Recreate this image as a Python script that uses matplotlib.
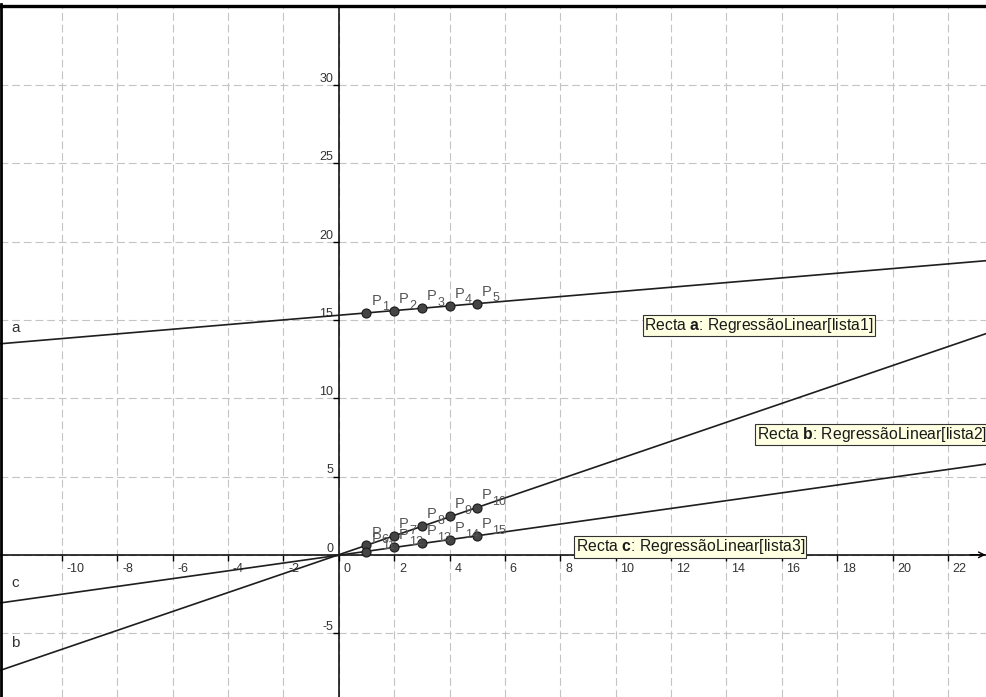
import numpy as np
import matplotlib
matplotlib.use("Agg")
import matplotlib.pyplot as plt
from matplotlib.lines import Line2D
from matplotlib.patches import Rectangle

plt.rcParams['font.family'] = ['Liberation Sans', 'DejaVu Sans']
plt.rcParams['mathtext.fontset'] = 'custom'
plt.rcParams['mathtext.rm'] = 'Liberation Sans'
plt.rcParams['mathtext.it'] = 'Liberation Sans:italic'
plt.rcParams['mathtext.bf'] = 'Liberation Sans:bold'

# listas de pontos (P1..P5, P6..P10, P11..P15)
x_pts = [1, 2, 3, 4, 5]
lista1 = [15.46, 15.58, 15.74, 15.91, 16.04]
lista2 = [0.64, 1.17, 1.81, 2.45, 3.02]
lista3 = [0.21, 0.47, 0.75, 0.96, 1.21]

nomes_rectas = ['a', 'b', 'c']
listas = [lista1, lista2, lista3]
nomes_listas = ['lista1', 'lista2', 'lista3']

x_ticks = [-10, -8, -6, -4, -2, 0, 2, 4, 6, 8, 10, 12, 14, 16, 18, 20, 22]
y_ticks = [-5, 0, 5, 10, 15, 20, 25, 30]

fig = plt.figure(figsize=(9.87, 6.97), dpi=100)
ax = fig.add_axes([0, 0, 1, 1])
ax.set_xlim(-12.236, 23.41)
ax.set_ylim(-9.08, 35.43)

# eixos no zero
for lado in ['top', 'right']:
    ax.spines[lado].set_visible(False)
for lado in ['left', 'bottom']:
    ax.spines[lado].set_position(('data', 0))
    ax.spines[lado].set_color('black')
    ax.spines[lado].set_linewidth(1.1)
ax.set_xticks(x_ticks)
ax.set_yticks(y_ticks)
ax.tick_params(direction='out', length=4, width=1, color='black',
               labelbottom=False, labelleft=False)
ax.set_axisbelow(True)
ax.grid(True, color='#c4c4c4', lw=0.8, linestyle=(0, (7, 3.5)))

# seta do eixo x
ax.annotate('', xy=(23.36, 0), xytext=(22.8, 0),
            arrowprops=dict(arrowstyle='->', lw=1, color='black',
                            shrinkA=0, shrinkB=0))

# etiquetas dos eixos
for t in x_ticks:
    ax.annotate(str(t), (t, 0), xytext=(3.4, -12.3), textcoords='offset points',
                ha='left', va='baseline', fontsize=9, color='#333333')
for t in y_ticks:
    ax.annotate(str(t), (0, t), xytext=(-4.0, 2.2), textcoords='offset points',
                ha='right', va='baseline', fontsize=9, color='#333333')

# rectas de regressao e pontos
offs_nome = [(8, 8.6), (8, 16.7), (8, 11.5)]
xmin = ax.get_xlim()[0]
n = 1
for nome, ys, off in zip(nomes_rectas, listas, offs_nome):
    m, b = np.polyfit(x_pts, ys, 1)
    ax.axline((0, b), slope=m, color='#1e1e1e', lw=1.2, zorder=3)
    ax.annotate(nome, (xmin, m * xmin + b), xytext=off, textcoords='offset points',
                ha='left', va='baseline', fontsize=11, color='#333333')
    ax.plot(x_pts, ys, 'o', ms=6.5, mfc='#444444', mec='#1a1a1a', mew=0.8, zorder=4)
    for xp, yp in zip(x_pts, ys):
        # P com indice desenhado a parte, mais abaixo
        ax.annotate('P', (xp, yp), xytext=(3.6, 5.8), textcoords='offset points',
                    ha='left', va='baseline', fontsize=10.5, color='#555555', zorder=5)
        ax.annotate(str(n), (xp, yp), xytext=(11.0, 1.6), textcoords='offset points',
                    ha='left', va='baseline', fontsize=9, color='#555555', zorder=5)
        n += 1

# caixas de texto com as definicoes
pos_caixas = [(11.04, 14.63), (15.09, 7.68), (8.55, 0.50)]
for nome, lst, (tx, ty) in zip(nomes_rectas, nomes_listas, pos_caixas):
    ax.text(tx, ty, r'Recta $\mathbf{%s}$: RegressãoLinear[%s]' % (nome, lst),
            ha='left', va='center', fontsize=11.3, color='#1a1a1a', zorder=6,
            bbox=dict(boxstyle='square,pad=0.08', fc='#ffffe1', ec='#333333', lw=0.8))

# moldura
fig.add_artist(Rectangle((0, 1 - 4 / 697), 1, 4 / 697, color='white',
                         transform=fig.transFigure, zorder=10))
fig.add_artist(Line2D([0, 1], [1 - 5.5 / 697] * 2, color='black', lw=2.4,
                      transform=fig.transFigure, zorder=11))
fig.add_artist(Line2D([1 / 987] * 2, [0, 1 - 4 / 697], color='black', lw=2,
                      transform=fig.transFigure, zorder=11))

fig.savefig('out.png', dpi=100)
